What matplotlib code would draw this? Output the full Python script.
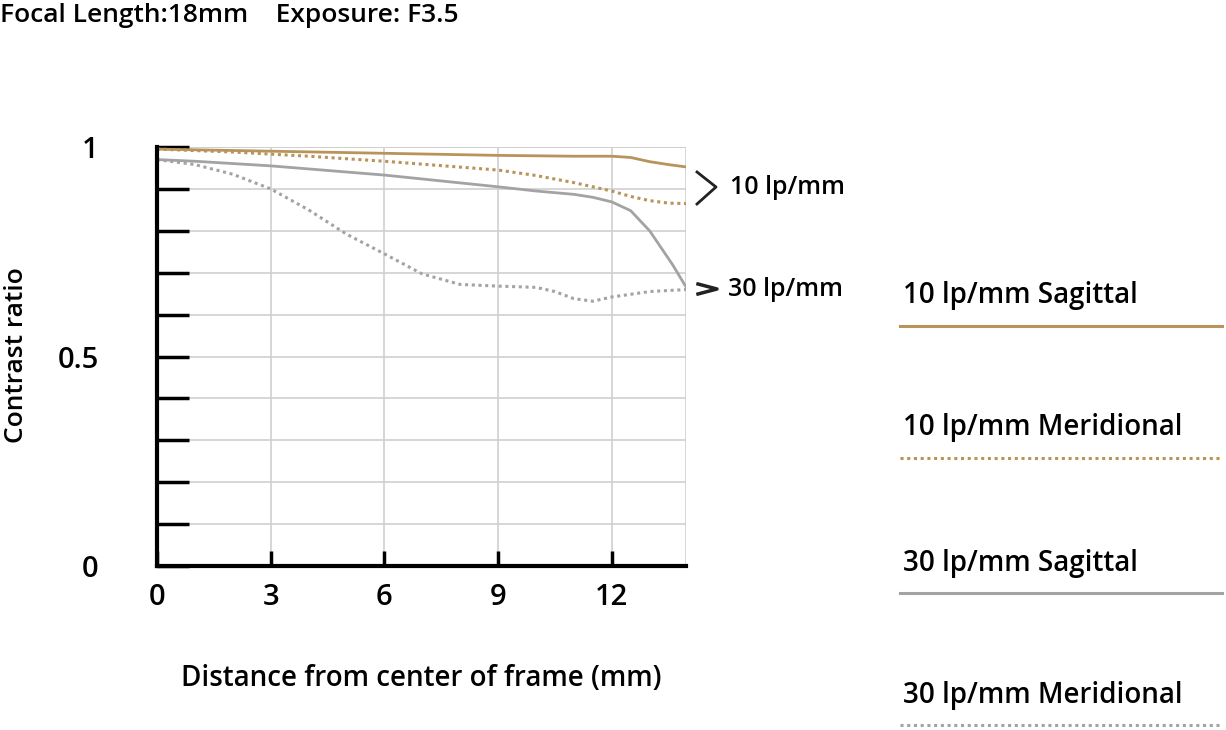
import matplotlib
matplotlib.use("Agg")
import matplotlib.pyplot as plt
from matplotlib.lines import Line2D

plt.rcParams['font.family'] = ['Open Sans', 'DejaVu Sans']

tan = '#b8945a'
gray = '#a3a3a3'

x_10s = [0, 3, 6, 9, 11, 12, 12.5, 13, 13.5, 14]
y_10s = [0.995, 0.99, 0.985, 0.98, 0.978, 0.978, 0.975, 0.965, 0.958, 0.952]

x_10m = [0, 2, 4, 6, 8, 9, 10, 11, 12, 12.5, 13, 13.5, 14]
y_10m = [0.995, 0.988, 0.978, 0.966, 0.952, 0.945, 0.932, 0.915, 0.895, 0.882, 0.872, 0.866, 0.865]

x_30s = [0, 1, 3, 6, 9, 10, 11, 11.5, 12, 12.5, 13, 13.3, 13.6, 14]
y_30s = [0.97, 0.966, 0.955, 0.933, 0.905, 0.895, 0.887, 0.88, 0.869, 0.848, 0.8, 0.76, 0.72, 0.66]

x_30m = [0, 1, 2, 3, 4, 5, 6, 7, 8, 9, 10, 10.5, 11, 11.5, 12, 13, 14]
y_30m = [0.97, 0.958, 0.935, 0.9, 0.85, 0.792, 0.745, 0.697, 0.672, 0.668, 0.665, 0.655, 0.638, 0.632, 0.642, 0.655, 0.66]

legend_labels = ['10 lp/mm Sagittal', '10 lp/mm Meridional', '30 lp/mm Sagittal', '30 lp/mm Meridional']

fig = plt.figure(figsize=(12.26, 7.3), dpi=100)
ax = fig.add_axes([157/1226, 164/730, 529/1226, 419/730])

ax.plot(x_10s, y_10s, color=tan, lw=2)
ax.plot(x_10m, y_10m, color=tan, lw=2.2, ls=(0, (1, 1.2)))
ax.plot(x_30s, y_30s, color=gray, lw=2)
ax.plot(x_30m, y_30m, color=gray, lw=2.2, ls=(0, (1, 1.2)))

ax.set_xlim(0, 13.96)
ax.set_ylim(0, 1)
ax.set_xticks([0, 3, 6, 9, 12])
ax.set_xticklabels(['0', '3', '6', '9', '12'])
ax.set_yticks([i / 10 for i in range(11)])
ax.set_yticklabels(['0', '', '', '', '', '0.5', '', '', '', '', '1'])
ax.tick_params(axis='y', direction='in', length=23, width=2.5, labelsize=21, pad=42)
ax.tick_params(axis='x', direction='in', length=11, width=2.5, labelsize=21, pad=12)
for t in ax.get_xticklabels() + ax.get_yticklabels():
    t.set_fontweight('semibold')
ax.grid(True, color='#cfcfcf', lw=1.2)
ax.set_axisbelow(True)
for s in ['top', 'right']:
    ax.spines[s].set_visible(False)
ax.plot([13.96, 13.96], [0, 1], color='#cfcfcf', lw=1.2, zorder=0)
ax.plot([0, 13.96], [1, 1], color='#cfcfcf', lw=1.2, zorder=0)
for s in ['left', 'bottom']:
    ax.spines[s].set_linewidth(3)

ax.set_xlabel('Distance from center of frame (mm)', fontsize=20, labelpad=38,
              fontweight='semibold')
fig.text(4/1226, 1 - 355/730, 'Contrast ratio', rotation=90, fontsize=19,
         va='center', ha='left', fontweight='semibold')

fig.text(0, 1 - 15/730, 'Focal Length:18mm    Exposure: F3.5', fontsize=19, va='center',
         fontweight='semibold')

# bracket markers on the right of the plot
fig.add_artist(Line2D([697/1226, 716/1226, 697/1226], [1 - 172/730, 1 - 187/730, 1 - 204/730],
                      color='#222', lw=2))
fig.text(730/1226, 1 - 187/730, '10 lp/mm', fontsize=18, va='center', fontweight='semibold')
fig.add_artist(Line2D([698/1226, 717/1226, 698/1226], [1 - 284/730, 1 - 289/730, 1 - 294/730],
                      color='#222', lw=2.5))
fig.text(728/1226, 1 - 289/730, '30 lp/mm', fontsize=18, va='center', fontweight='semibold')

# legend
leg_y = [296, 428, 563, 695]
leg_style = [(tan, '-'), (tan, (0, (1, 1.2))), (gray, '-'), (gray, (0, (1, 1.2)))]
for lab, yy, (c, ls) in zip(legend_labels, leg_y, leg_style):
    fig.text(903/1226, 1 - yy/730, lab, fontsize=20, va='center', fontweight='semibold')
    fig.add_artist(Line2D([900/1226, 1222/1226], [1 - (yy + 30)/730] * 2, color=c, lw=2.2, ls=ls))

fig.savefig('out.png', dpi=100)
